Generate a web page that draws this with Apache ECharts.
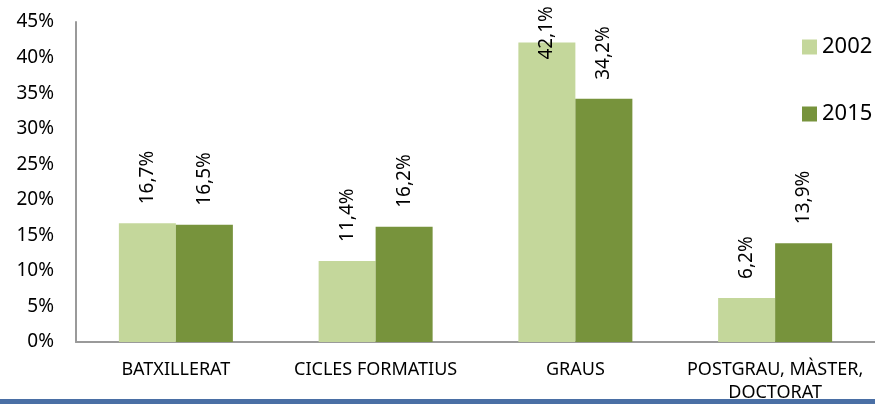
<!DOCTYPE html>
<html><head><meta charset="utf-8">
<script src="https://cdn.jsdelivr.net/npm/echarts@6/dist/echarts.min.js"></script>
<style>html,body{margin:0;padding:0;background:#fff}#c{width:875px;height:404px}</style>
</head><body><div id="c"></div>
<script>
const categories = ['BATXILLERAT', 'CICLES FORMATIUS', 'GRAUS', 'POSTGRAU, MÀSTER,\nDOCTORAT'];
const values2002 = [16.7, 11.4, 42.1, 6.2];
const values2015 = [16.5, 16.2, 34.2, 13.9];
const seriesNames = ['2002', '2015'];
const yTicks = [0, 5, 10, 15, 20, 25, 30, 35, 40, 45];

const FONT = 'Noto Sans';
const fmt = v => String(v.toFixed(1)).replace('.', ',') + '%';
function mkData(arr) {
  return arr.map(v => {
    const d = { value: v };
    if (v > 40) d.label = { distance: -17 };
    return d;
  });
}
const labelCfg = {
  show: true, position: 'top', rotate: 90, distance: 19,
  align: 'left', verticalAlign: 'middle',
  fontFamily: FONT, fontSize: 19, color: '#000',
  formatter: p => fmt(p.value)
};
const chart = echarts.init(document.getElementById('c'));
chart.setOption({
  animation: false,
  grid: { left: 76, right: -1, top: 22, bottom: 61, containLabel: false },
  legend: {
    orient: 'vertical', left: 797, top: 31, itemWidth: 15, itemHeight: 15, itemGap: 45,
    icon: 'rect',
    textStyle: { fontFamily: FONT, fontSize: 22, color: '#000' },
    data: seriesNames
  },
  xAxis: {
    type: 'category', data: categories,
    axisLine: { lineStyle: { color: '#9a9a9a', width: 2 } },
    axisTick: { show: false },
    axisLabel: { fontFamily: FONT, fontSize: 18, color: '#000', margin: 16, lineHeight: 23, interval: 0 }
  },
  yAxis: {
    type: 'value', min: 0, max: 45, interval: 5,
    axisLine: { show: true, lineStyle: { color: '#9a9a9a', width: 2 } },
    axisTick: { show: false },
    splitLine: { show: false },
    axisLabel: { fontFamily: FONT, fontSize: 19, color: '#000', margin: 22, formatter: v => yTicks.includes(v) ? v + '%' : '' }
  },
  series: [
    { name: seriesNames[0], type: 'bar', data: mkData(values2002), barWidth: 57, barGap: '0%',
      itemStyle: { color: '#c4d79b' }, label: labelCfg },
    { name: seriesNames[1], type: 'bar', data: mkData(values2015), barWidth: 57, barGap: '0%',
      itemStyle: { color: '#77933c' }, label: labelCfg }
  ],
  graphic: [{ type: 'rect', left: 0, top: 399, shape: { width: 875, height: 5 }, style: { fill: '#4a6fa5' }, z: 100 }]
});
</script></body></html>
